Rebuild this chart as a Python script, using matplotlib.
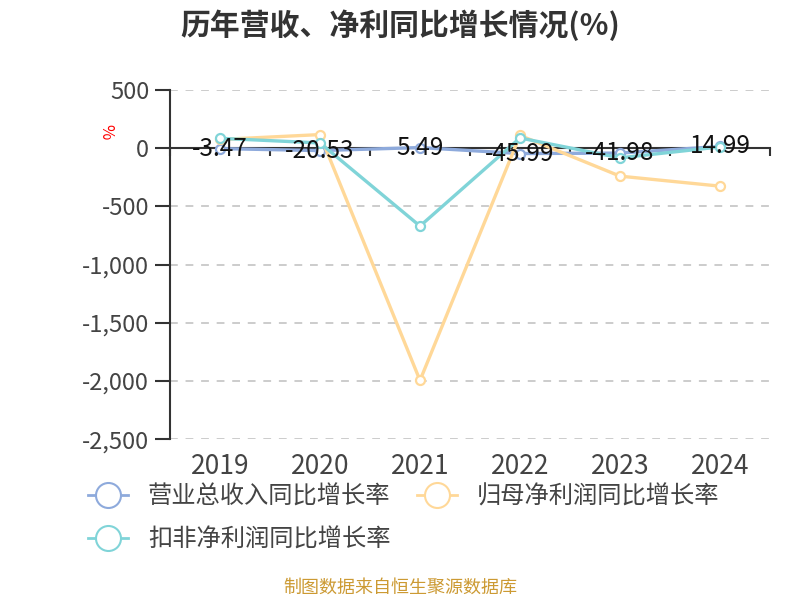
import matplotlib.pyplot as plt
from matplotlib.lines import Line2D
from matplotlib.ticker import FuncFormatter

plt.rcParams['font.family'] = ['Noto Sans CJK SC', 'DejaVu Sans']

years = ['2019', '2020', '2021', '2022', '2023', '2024']
revenue = [-3.47, -20.53, 5.49, -45.99, -41.98, 14.99]
net_profit = [75, 117, -1995, 110, -240, -326]
deducted = [85, 45, -669, 88, -83, 11]

names = ['营业总收入同比增长率', '归母净利润同比增长率', '扣非净利润同比增长率']
colors = ['#8eaadc', '#ffd898', '#80d4d8']

fig = plt.figure(figsize=(8, 6), dpi=100)
ax = fig.add_axes([0.2125, 0.268, 0.75, 0.582])

x = range(len(years))
for vals, c in zip([revenue, net_profit, deducted], colors):
    ax.plot(x, vals, color=c, lw=2.4, marker='o', ms=6.5, mfc='white', mec=c, mew=1.6,
            solid_joinstyle='round', zorder=3)

for i, v in enumerate(revenue):
    ax.text(i, v, f'{v:.2f}', ha='center', va='center', fontsize=17.5, color='#111111', zorder=5)

ax.set_xlim(-0.5, len(years) - 0.5)
ax.set_ylim(-2500, 500)
ax.set_yticks(range(-2500, 501, 500))
ax.yaxis.set_major_formatter(FuncFormatter(lambda v, p: f'{int(v):,}'))
ax.tick_params(axis='y', length=11, width=1.5, color='#333333', labelsize=17,
               labelcolor='#444444', pad=4)
for y in range(-2500, 501, 500):
    if y != 0:
        ax.axhline(y, color='#cccccc', lw=1.4, ls=(0, (4, 4)), zorder=1)

for s in ['top', 'right']:
    ax.spines[s].set_visible(False)
ax.spines['left'].set_color('#333333')
ax.spines['left'].set_linewidth(1.5)
ax.spines['bottom'].set_position(('data', 0))
ax.spines['bottom'].set_color('#333333')
ax.spines['bottom'].set_linewidth(1.5)
ax.set_xticks([i - 0.5 for i in range(len(years) + 1)])
ax.set_xticklabels([])
ax.tick_params(axis='x', length=6, width=1.5, color='#333333')

sec = ax.secondary_xaxis('bottom')
sec.set_xticks(list(x))
sec.set_xticklabels(years)
sec.spines['bottom'].set_visible(False)
sec.tick_params(length=0, labelsize=19, labelcolor='#444444', pad=10)

ax.text(-0.107, 0.88, '%', transform=ax.transAxes, rotation=-90, color='red', fontsize=12,
        ha='center', va='center')

fig.suptitle('历年营收、净利同比增长情况(%)', x=0.5, y=0.985, fontsize=21.5, fontweight='bold',
             color='#333333')

handles = [Line2D([], [], color=c, lw=2, marker='o', ms=18, mfc='white', mec=c, mew=1.5)
           for c in colors]
order = [0, 2, 1]
fig.legend([handles[i] for i in order], [names[i] for i in order], ncol=2,
           loc='upper left', bbox_to_anchor=(0.083, 0.23), frameon=False, fontsize=17.5,
           handlelength=1.65, handletextpad=0.8, columnspacing=1.1, labelspacing=0.7,
           labelcolor='#444444')

fig.text(0.5, 0.02, '制图数据来自恒生聚源数据库', ha='center', va='center', fontsize=13,
         color='#cc9a33')

fig.savefig('out.png', dpi=100)
